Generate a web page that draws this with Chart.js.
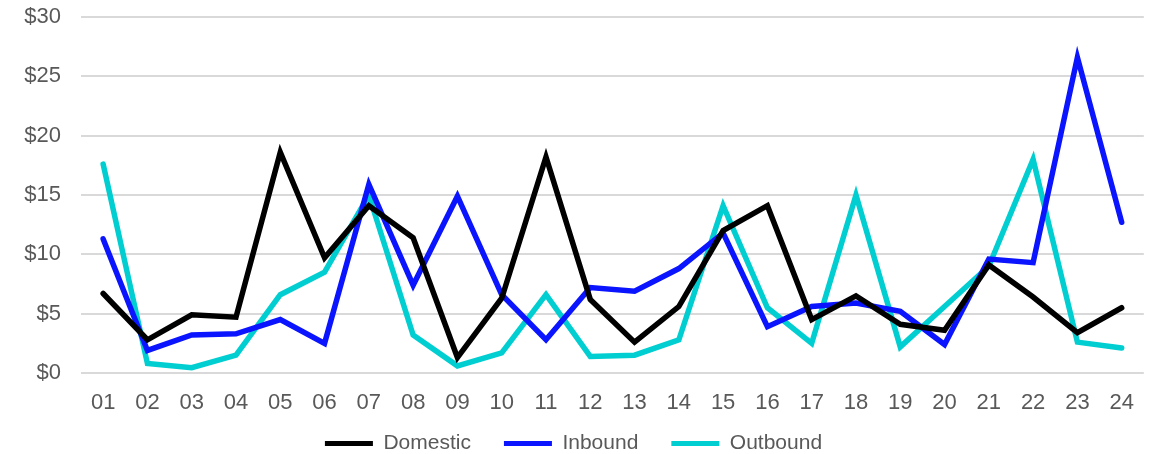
<!DOCTYPE html>
<html>
<head>
<meta charset="utf-8">
<script src="https://cdn.jsdelivr.net/npm/chart.js@4/dist/chart.umd.min.js"></script>
<style>
  html, body { margin: 0; padding: 0; background: #ffffff; }
  #wrap { width: 1151px; height: 454px; position: relative; }
</style>
</head>
<body>
<div id="wrap"><canvas id="chart"></canvas></div>
<script>
// Period labels along the x axis
const categories = ['01','02','03','04','05','06','07','08','09','10','11','12',
                    '13','14','15','16','17','18','19','20','21','22','23','24'];

// Values in dollars per period
const domestic = [6.7, 2.8, 4.9, 4.7, 18.6, 9.7, 14.1, 11.4, 1.3, 6.3, 18.2, 6.2,
                  2.6, 5.6, 12.0, 14.1, 4.5, 6.5, 4.1, 3.6, 9.1, 6.4, 3.4, 5.5];
const inbound  = [11.3, 1.9, 3.2, 3.3, 4.5, 2.5, 15.9, 7.4, 14.9, 6.6, 2.8, 7.2,
                  6.9, 8.8, 11.8, 3.9, 5.6, 5.9, 5.2, 2.4, 9.6, 9.3, 26.6, 12.7];
const outbound = [17.6, 0.8, 0.45, 1.5, 6.6, 8.5, 15.0, 3.2, 0.6, 1.7, 6.6, 1.4,
                  1.5, 2.8, 14.1, 5.5, 2.5, 15.0, 2.2, 5.6, 9.0, 18.0, 2.6, 2.1];

// Y axis range and tick step
const yMin = 0, yMax = 30, yStep = 5;

const FONT = "'Liberation Sans', Arial, sans-serif";
const TEXT = '#595959';

function series(label, data, color) {
  return {
    label, data,
    borderColor: color,
    backgroundColor: color,
    borderWidth: 5.5,
    borderJoinStyle: 'miter',
    borderCapStyle: 'round',
    pointRadius: 0,
    pointHoverRadius: 0,
    tension: 0,
    fill: false
  };
}

new Chart(document.getElementById('chart'), {
  type: 'line',
  data: {
    labels: categories,
    datasets: [
      series('Domestic', domestic, '#000000'),
      series('Inbound', inbound, '#0A14FF'),
      series('Outbound', outbound, '#00CED1')
    ]
  },
  options: {
    responsive: true,
    maintainAspectRatio: false,
    animation: false,
    layout: { padding: { top: 17, right: 4, bottom: -10, left: 0 } },
    plugins: {
      tooltip: { enabled: false },
      legend: {
        position: 'bottom',
        labels: {
          color: TEXT,
          font: { family: FONT, size: 21 },
          boxWidth: 48,
          boxHeight: 5,
          padding: 33,
          generateLabels(chart) {
            return chart.data.datasets.map((ds, i) => ({
              text: ds.label,
              fillStyle: ds.borderColor,
              strokeStyle: ds.borderColor,
              lineWidth: 0,
              fontColor: TEXT,
              datasetIndex: i,
              hidden: false
            }));
          }
        }
      }
    },
    scales: {
      x: {
        offset: true,
        grid: { display: false, drawTicks: false },
        border: { display: false },
        afterFit(scale) {
          // compact axis box; labels may extend below it into the legend gap
          scale.height = 27;
          scale._computeLabelArea = () => undefined;
        },
        ticks: {
          color: TEXT,
          font: { family: FONT, size: 22 },
          padding: 17,
          maxRotation: 0,
          autoSkip: false
        }
      },
      y: {
        min: yMin,
        max: yMax,
        grid: { color: '#D9D9D9', lineWidth: 2, drawTicks: false },
        border: { display: false },
        afterFit(scale) {
          scale.width = 81;
          scale.paddingTop = 0;
          scale.paddingBottom = 0;
        },
        ticks: {
          stepSize: yStep,
          color: TEXT,
          font: { family: FONT, size: 22 },
          padding: 20,
          callback: (v) => '$' + v
        }
      }
    }
  }
});
</script>
</body>
</html>
